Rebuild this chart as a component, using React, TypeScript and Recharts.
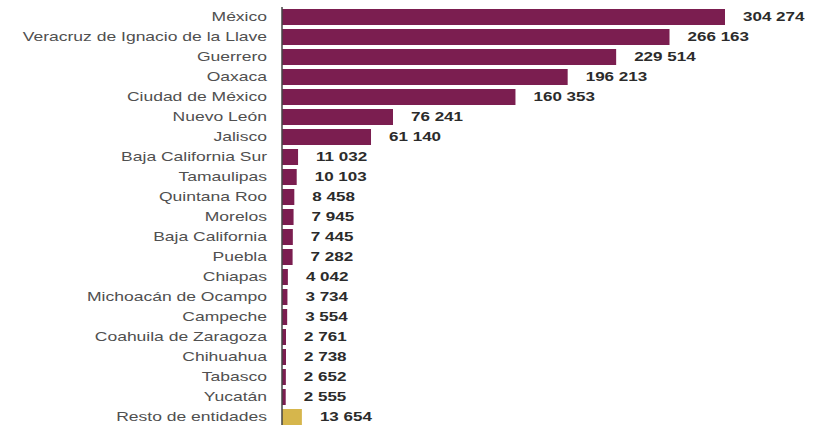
import React from 'react';
import { BarChart, Bar, XAxis, YAxis, Cell, LabelList } from 'recharts';

// entidades y valores
const entidades = [
  'México',
  'Veracruz de Ignacio de la Llave',
  'Guerrero',
  'Oaxaca',
  'Ciudad de México',
  'Nuevo León',
  'Jalisco',
  'Baja California Sur',
  'Tamaulipas',
  'Quintana Roo',
  'Morelos',
  'Baja California',
  'Puebla',
  'Chiapas',
  'Michoacán de Ocampo',
  'Campeche',
  'Coahuila de Zaragoza',
  'Chihuahua',
  'Tabasco',
  'Yucatán',
  'Resto de entidades',
];

const valores = [
  304274, 266163, 229514, 196213, 160353, 76241, 61140, 11032, 10103, 8458,
  7945, 7445, 7282, 4042, 3734, 3554, 2761, 2738, 2652, 2555, 13654,
];

const datos = entidades.map((nombre, i) => ({ nombre, valor: valores[i] }));

const GUINDA = '#7B1E50';
const DORADO = '#D6B64C';
// la imagen original está estirada a lo ancho
const ESTIRA_EJE = 1.46;
const ESTIRA_VALOR = 1.42;

const fmt = (v: number) => v.toLocaleString('en-US').replace(/,/g, ' ');

const EtiquetaEje = ({ x, y, payload }: any) => (
  <text
    transform={`translate(${x},${y}) scale(${ESTIRA_EJE},1)`}
    textAnchor="end"
    dominantBaseline="central"
    fill="#505050"
    fontSize={12}
    fontFamily="'Liberation Sans', Arial, sans-serif"
  >
    {payload.value}
  </text>
);

const EtiquetaValor = ({ x, y, width, height, value }: any) => (
  <text
    transform={`translate(${Number(x) + Number(width) + 18},${Number(y) + Number(height) / 2}) scale(${ESTIRA_VALOR},1)`}
    textAnchor="start"
    dominantBaseline="central"
    fill="#2b2b2b"
    fontSize={12}
    fontWeight="bold"
    fontFamily="'Liberation Sans', Arial, sans-serif"
  >
    {fmt(Number(value))}
  </text>
);

export default function App() {
  return (
    <div style={{ position: 'absolute', left: 0, top: 0, width: 815, height: 425, overflow: 'hidden', background: '#fff' }}>
      <BarChart
        width={815}
        height={428}
        data={datos}
        layout="vertical"
        margin={{ top: 7, right: 90, bottom: 1, left: 0 }}
      >
        <XAxis type="number" hide domain={[0, 'dataMax']} />
        <YAxis
          type="category"
          dataKey="nombre"
          width={282}
          interval={0}
          tickLine={false}
          tickMargin={9}
          axisLine={{ stroke: '#444', strokeWidth: 1.5 }}
          tick={<EtiquetaEje />}
        />
        <Bar dataKey="valor" barSize={16} isAnimationActive={false}>
          {datos.map((d, i) => (
            <Cell key={d.nombre} fill={i === datos.length - 1 ? DORADO : GUINDA} />
          ))}
          <LabelList dataKey="valor" content={<EtiquetaValor />} />
        </Bar>
      </BarChart>
    </div>
  );
}
